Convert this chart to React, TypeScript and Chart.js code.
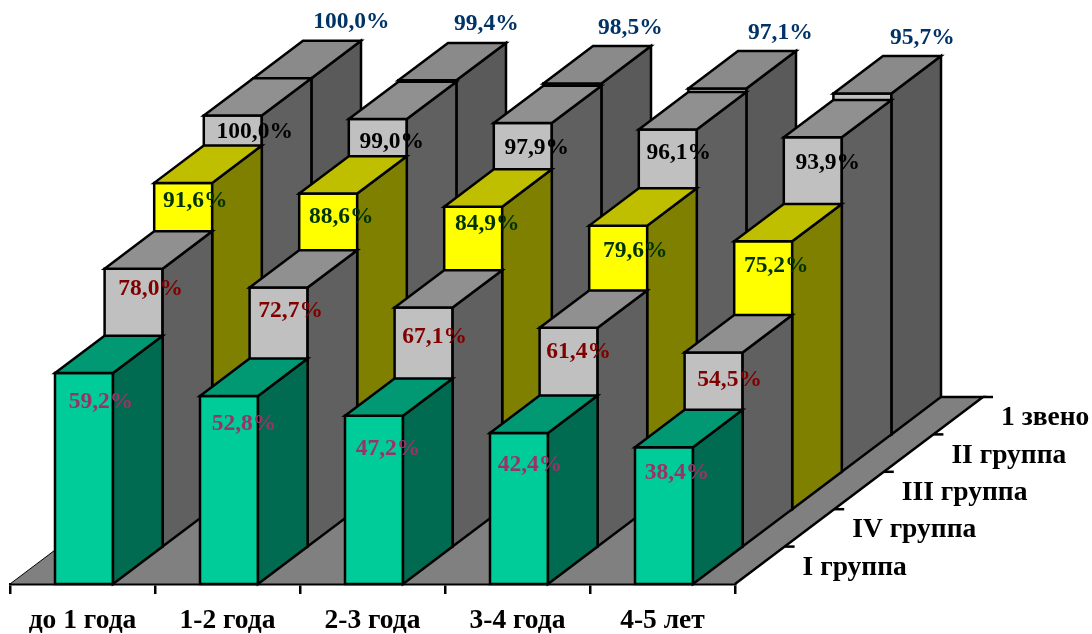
import React, { useEffect, useRef } from "react";
import { Chart, registerables } from "chart.js";

Chart.register(...registerables);

const categories = ["до 1 года", "1-2 года", "2-3 года", "3-4 года", "4-5 лет"];
const seriesNames = ["I группа", "IV группа", "III группа", "II группа", "1 звено"];
const groupI = [59.2, 52.8, 47.2, 42.4, 38.4];
const groupIV = [78.0, 72.7, 67.1, 61.4, 54.5];
const groupIII = [91.6, 88.6, 84.9, 79.6, 75.2];
const groupII = [100.0, 99.0, 97.9, 96.1, 93.9];
const zveno = [100.0, 99.4, 98.5, 97.1, 95.7];
const seriesValues = [groupI, groupIV, groupIII, groupII, zveno];

const FONT = '"Liberation Serif", "Times New Roman", serif';
const DX = 49.6;
const DY = -37.4;
const styles = [
  { front: "#00CC99", top: "#009973", side: "#006B50", text: "#993366", lx: 45, ly: 28 },
  { front: "#C0C0C0", top: "#909090", side: "#606060", text: "#800000", lx: 46, ly: 24 },
  { front: "#FFFF00", top: "#BFBF00", side: "#808000", text: "#003300", lx: 41, ly: 21 },
  { front: "#C0C0C0", top: "#909090", side: "#606060", text: "#000000", lx: 42, ly: 22 },
  { front: "#C0C0C0", top: "#8A8A8A", side: "#5A5A5A", text: "#003366", lx: 92, ly: -57 },
];
// hand placement of each value label around its series anchor: [dx, dy] per category
const labelNudges = [
  [[1, 1], [-1, 0], [-2, 5], [-5, 4], [-3, -2]],
  [[0, -4], [-5, -1], [-6, 5], [-7, 0], [-1, 3]],
  [[0, -3], [1, 2], [2, -4], [5, 4], [1, 4]],
  [[9, -6], [1, 1], [1, 3], [-2, 1], [2, 4]],
  [[6, 1], [-4, 1], [-5, 1], [0, 1], [-3, 1]],
];

function poly(ctx: CanvasRenderingContext2D, pts: number[][], fill: string) {
  ctx.beginPath();
  pts.forEach((p, i) => (i ? ctx.lineTo(p[0], p[1]) : ctx.moveTo(p[0], p[1])));
  ctx.closePath();
  ctx.fillStyle = fill;
  ctx.fill();
  ctx.stroke();
}

const bars3d = {
  id: "bars3d",
  beforeDatasetsDraw(chart: any) {
    const { ctx, chartArea } = chart;
    const { left, right, bottom } = chartArea;
    const n = seriesNames.length;
    ctx.save();
    ctx.strokeStyle = "#000";
    ctx.lineWidth = 1;
    ctx.beginPath();
    ctx.moveTo(left, bottom);
    ctx.lineTo(right, bottom);
    ctx.lineTo(right + n * DX, bottom + n * DY);
    ctx.lineTo(left + n * DX, bottom + n * DY);
    ctx.closePath();
    ctx.fillStyle = "#808080";
    ctx.fill();
    ctx.stroke();
    ctx.lineWidth = 2.5;
    ctx.beginPath();
    ctx.moveTo(right, bottom);
    ctx.lineTo(right + n * DX, bottom + n * DY);
    ctx.lineTo(right + n * DX - 45, bottom + n * DY);
    ctx.stroke();
    ctx.textAlign = "left";
    ctx.textBaseline = "middle";
    ctx.font = `bold 27.5px ${FONT}`;
    ctx.fillStyle = "#000";
    seriesNames.forEach((name, k) => {
      const tx = right + (k + 1) * DX;
      const ty = bottom + (k + 1) * DY;
      ctx.beginPath();
      ctx.moveTo(tx, ty);
      ctx.lineTo(tx + 10, ty);
      ctx.stroke();
      ctx.fillText(name, tx + 18, ty + 21);
    });
    ctx.restore();
  },
  beforeDatasetDraw(chart: any, args: any) {
    const { ctx } = chart;
    const k = args.index;
    const s = styles[k];
    ctx.save();
    ctx.strokeStyle = "#000";
    ctx.lineWidth = 2.5;
    ctx.lineJoin = "miter";
    args.meta.data.forEach((el: any) => {
      const x0 = el.x - el.width / 2 + 1.5 + k * DX;
      const x1 = x0 + el.width;
      const yT = el.y + k * DY;
      const yB = el.base + k * DY;
      poly(ctx, [[x0, yT], [x1, yT], [x1, yB], [x0, yB]], s.front);
      poly(ctx, [[x1, yT], [x1 + DX, yT + DY], [x1 + DX, yB + DY], [x1, yB]], s.side);
      poly(ctx, [[x0, yT], [x1, yT], [x1 + DX, yT + DY], [x0 + DX, yT + DY]], s.top);
    });
    ctx.restore();
    return false;
  },
  afterDatasetsDraw(chart: any) {
    const { ctx } = chart;
    ctx.save();
    ctx.textAlign = "center";
    ctx.textBaseline = "middle";
    ctx.font = `bold 23.5px ${FONT}`;
    chart.data.datasets.forEach((ds: any, k: number) => {
      const s = styles[k];
      ctx.fillStyle = s.text;
      chart.getDatasetMeta(k).data.forEach((el: any, i: number) => {
        const x0 = el.x - el.width / 2 + 1.5 + k * DX;
        const label = ds.data[i].toFixed(1).replace(".", ",") + "%";
        const [nx, ny] = labelNudges[k][i];
        ctx.fillText(label, x0 + s.lx + nx, el.y + k * DY + s.ly + ny);
      });
    });
    ctx.restore();
  },
};

export default function App() {
  const ref = useRef<HTMLCanvasElement>(null);
  useEffect(() => {
    const chart = new Chart(ref.current!, {
      type: "bar",
      data: {
        labels: categories,
        datasets: seriesValues.map((data, k) => ({ label: seriesNames[k], data })),
      },
      options: {
        responsive: false,
        animation: false,
        layout: { padding: { left: 10, right: 357, top: 14, bottom: 0 } },
        datasets: { bar: { grouped: false, barPercentage: 0.4, categoryPercentage: 1 } },
        plugins: { legend: { display: false }, tooltip: { enabled: false } },
        scales: {
          x: {
            offset: true,
            afterFit: (s: any) => {
              s.height = 50;
            },
            border: { color: "#000", width: 2.5 },
            grid: { drawOnChartArea: false, color: "#000", lineWidth: 2.5, tickLength: 10, offset: true },
            ticks: {
              autoSkip: false,
              maxRotation: 0,
              color: "#000",
              padding: 10,
              font: { family: FONT, size: 27.5, weight: "bold" },
            },
          },
          y: { display: false, min: 0, max: 160 },
        },
      } as any,
      plugins: [bars3d],
    });
    return () => chart.destroy();
  }, []);
  return (
    <canvas
      ref={ref}
      width={1092}
      height={634}
      style={{ position: "absolute", left: 0, top: 0, display: "block", background: "#fff" }}
    />
  );
}
